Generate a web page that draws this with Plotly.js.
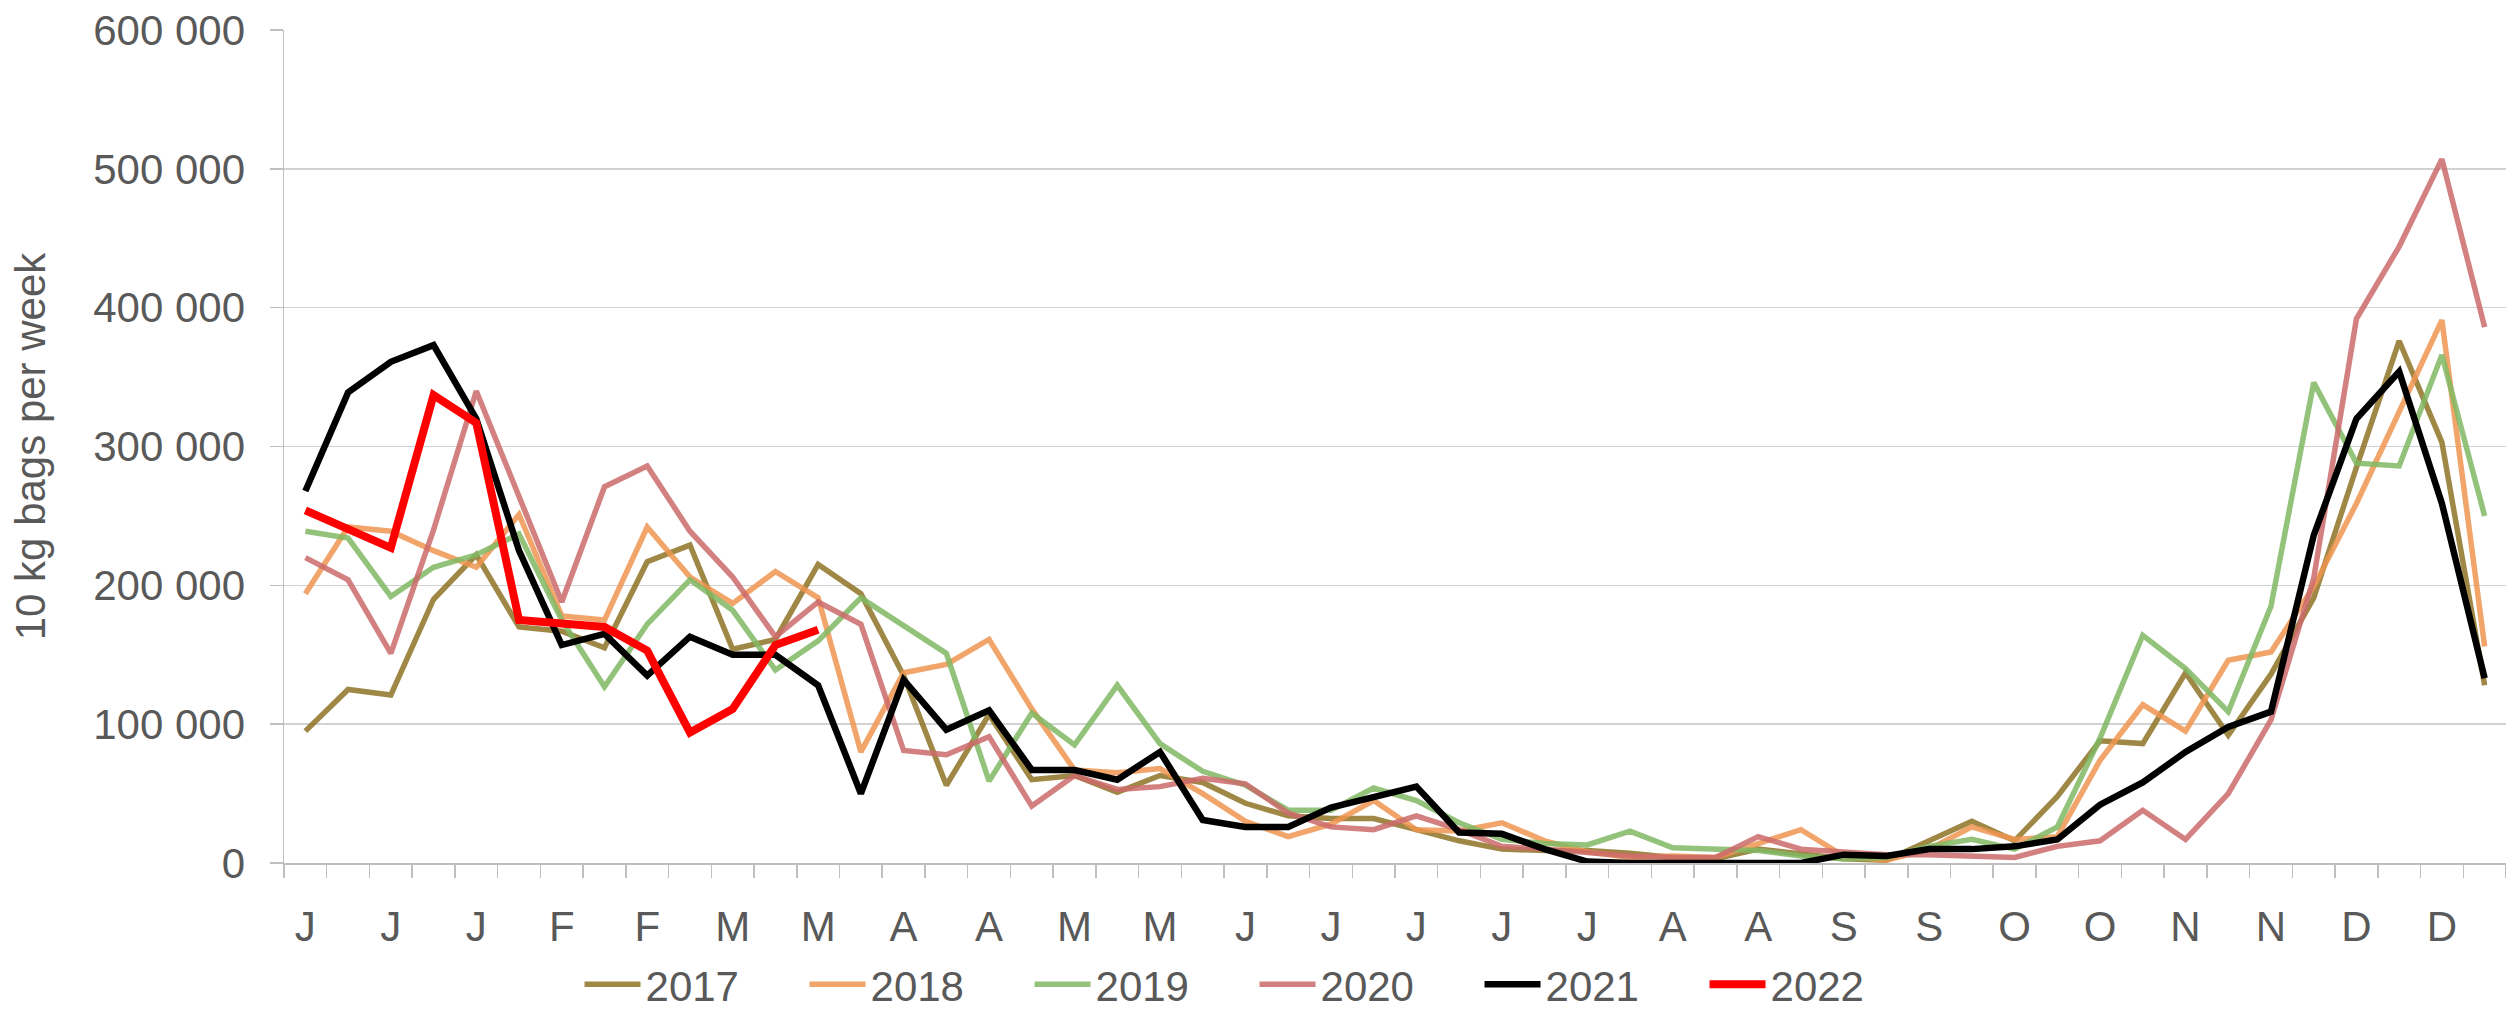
<!DOCTYPE html>
<html>
<head>
<meta charset="utf-8">
<script src="https://cdn.plot.ly/plotly-3.0.1.min.js"></script>
<style>
html,body{margin:0;padding:0;background:#fff;}
#chart{width:2506px;height:1018px;}
</style>
</head>
<body>
<div id="chart"></div>
<script>
// Week numbers (1..52)
const weeks = [1,2,3,4,5,6,7,8,9,10,11,12,13,14,15,16,17,18,19,20,21,22,23,24,25,26,
               27,28,29,30,31,32,33,34,35,36,37,38,39,40,41,42,43,44,45,46,47,48,49,50,51,52];

// Month-initial labels shown on every other week
const tickWeeks = [1,3,5,7,9,11,13,15,17,19,21,23,25,27,29,31,33,35,37,39,41,43,45,47,49,51];
const tickLabels = ["J","J","J","F","F","M","M","A","A","M","M","J","J","J","J","J","A","A","S","S","O","O","N","N","D","D"];

// 10 kg bags per week
const y2017 = [95000,125000,121000,190000,222000,170000,167000,155000,217000,229000,154000,161000,215000,194000,135000,56000,107000,60000,63000,51000,63000,58000,43000,34000,32000,32000,
               24000,16000,10000,9000,9000,7000,4000,3000,10000,6000,3000,2000,16000,30000,16000,48000,88000,86000,137000,92000,136000,191000,285000,376000,303000,128000];
const y2018 = [194000,242000,239000,225000,213000,251000,178000,175000,242000,206000,187000,210000,191000,80000,137000,143000,161000,111000,67000,65000,68000,50000,30000,19000,28000,45000,
               24000,23000,29000,16000,8000,4000,5000,4000,14000,24000,5000,2000,10000,26000,17000,19000,74000,114000,95000,146000,152000,199000,259000,325000,391000,156000];
const y2019 = [239000,234000,192000,213000,222000,237000,175000,127000,172000,204000,182000,139000,160000,191000,171000,151000,59000,108000,85000,128000,86000,66000,56000,38000,38000,54000,
               45000,29000,17000,14000,13000,23000,11000,10000,9000,5000,3000,4000,12000,17000,10000,26000,90000,164000,140000,109000,185000,346000,288000,286000,366000,250000];
const y2020 = [220000,204000,151000,240000,340000,263000,188000,271000,286000,239000,206000,163000,188000,172000,81000,78000,91000,41000,63000,53000,55000,61000,57000,36000,26000,24000,
               34000,24000,12000,10000,7000,5000,4000,4000,19000,10000,8000,6000,6000,5000,4000,12000,16000,38000,17000,50000,103000,205000,392000,444000,507000,386000];
const y2021 = [268000,339000,361000,373000,320000,225000,157000,165000,135000,163000,150000,150000,128000,50000,132000,96000,110000,67000,67000,60000,80000,31000,26000,26000,40000,47000,
               55000,22000,21000,10000,1000,0,0,0,0,0,6000,5000,10000,10000,12000,17000,42000,58000,80000,98000,109000,236000,320000,354000,259000,133000];
const y2022 = [254000,240000,227000,337000,317000,175000,173000,170000,153000,94000,111000,157000,168000];

const seriesNames = ["2017","2018","2019","2020","2021","2022"];
const seriesValues = [y2017,y2018,y2019,y2020,y2021,y2022];
const seriesColors = ["#8E7326","#EE9550","#80B863","#CB6A6A","#000000","#FF0000"];
const seriesOpacity = [0.85,0.85,0.85,0.85,1,1];
const seriesWidths = [5.5,5.5,5.5,5.5,6.5,8];

const traces = seriesNames.map((name,k) => ({
  type: "scatter",
  mode: "lines",
  name: name,
  x: weeks.slice(0, seriesValues[k].length),
  y: seriesValues[k],
  opacity: seriesOpacity[k],
  line: {color: seriesColors[k], width: seriesWidths[k], shape: "linear"},
  hoverinfo: "x+y+name"
}));

const fontFam = "Liberation Sans, Arial, Helvetica, sans-serif";
const textColor = "#595959";
const axisGray = "#BFBFBF";
const fs = 42;

const layout = {
  width: 2506,
  height: 1018,
  margin: {l: 284, r: 0, t: 30, b: 155, pad: 0},
  paper_bgcolor: "#ffffff",
  plot_bgcolor: "#ffffff",
  separators: ", ",
  font: {family: fontFam, color: textColor, size: fs},
  showlegend: true,
  legend: {
    orientation: "h",
    xref: "paper",
    yref: "container",
    x: 0.133,
    xanchor: "left",
    y: 0.033,
    yanchor: "middle",
    font: {family: fontFam, color: textColor, size: fs},
    itemwidth: 56,
    entrywidth: 154,
    entrywidthmode: "pixels",
    traceorder: "normal",
    bgcolor: "rgba(0,0,0,0)"
  },
  xaxis: {
    type: "linear",
    range: [0.5, 52.5],
    tickmode: "array",
    tickvals: tickWeeks,
    ticktext: tickLabels,
    ticks: "outside",
    ticklen: 13,
    tickcolor: "rgba(0,0,0,0)",
    ticklabelstandoff: 13,
    showgrid: false,
    zeroline: false,
    showline: true,
    linecolor: axisGray,
    linewidth: 1.5,
    tickfont: {family: fontFam, color: textColor, size: fs},
    minor: {
      tick0: 0.5,
      dtick: 1,
      ticks: "outside",
      ticklen: 13,
      tickcolor: axisGray,
      tickwidth: 1.5,
      showgrid: false
    },
    fixedrange: true
  },
  yaxis: {
    range: [0, 600000],
    tickmode: "linear",
    tick0: 0,
    dtick: 100000,
    tickformat: ",d",
    ticks: "outside",
    ticklen: 13,
    tickcolor: axisGray,
    tickwidth: 1.5,
    ticklabelstandoff: 16,
    showgrid: true,
    gridcolor: "#D2D2D2",
    gridwidth: 1.5,
    zeroline: false,
    showline: true,
    linecolor: axisGray,
    linewidth: 1.5,
    tickfont: {family: fontFam, color: textColor, size: fs},
    title: {
      text: "10 kg bags per week",
      font: {family: fontFam, color: textColor, size: fs},
      standoff: 34
    },
    fixedrange: true
  }
};

Plotly.newPlot("chart", traces, layout, {displayModeBar: false, staticPlot: true});
</script>
</body>
</html>
